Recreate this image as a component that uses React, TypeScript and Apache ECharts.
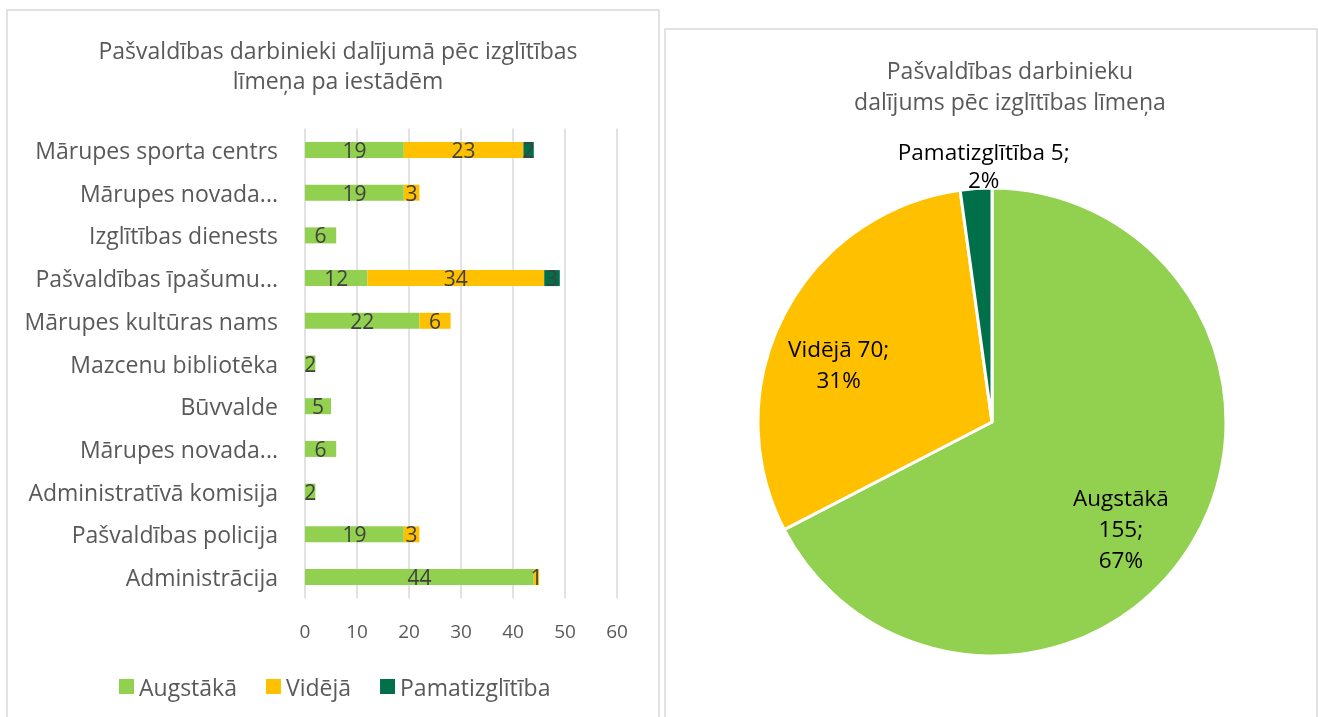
import React, { useEffect, useRef } from "react";
import * as echarts from "echarts";

const categories = [
  "Administrācija",
  "Pašvaldības policija",
  "Administratīvā komisija",
  "Mārupes novada...",
  "Būvvalde",
  "Mazcenu bibliotēka",
  "Mārupes kultūras nams",
  "Pašvaldības īpašumu...",
  "Izglītības dienests",
  "Mārupes novada...",
  "Mārupes sporta centrs",
];
const augstaka = [44, 19, 2, 6, 5, 2, 22, 12, 6, 19, 19];
const videja = [1, 3, 0, 0, 0, 0, 6, 34, 0, 3, 23];
const pamat = [0, 0, 0, 0, 0, 0, 0, 3, 0, 0, 2];
const seriesNames = ["Augstākā", "Vidējā", "Pamatizglītība"];
const pieValues = [155, 70, 5];
const piePercents = ["67%", "31%", "2%"];
const xTicks = { min: 0, max: 60, interval: 10 };

const COLORS = ["#92D050", "#FFC000", "#00704A"];
const FONT = "Open Sans";

export default function App() {
  const ref = useRef<HTMLDivElement>(null);
  useEffect(() => {
    if (!ref.current) return;
    const chart = echarts.init(ref.current, undefined, { renderer: "svg" });
    const barLabel = {
      show: true,
      position: "inside",
      color: "#404040",
      fontFamily: FONT,
      fontSize: 21,
      formatter: (p: any) => (p.value ? String(p.value) : ""),
    };
    const barSeries = [augstaka, videja, pamat].map((d, i) => ({
      type: "bar",
      name: seriesNames[i],
      stack: "total",
      data: d,
      barWidth: 16,
      itemStyle: { color: COLORS[i] },
      label: barLabel,
    }));
    const pieLabelFmt = (p: any) => {
      const i = p.dataIndex;
      if (i === 0) return `${seriesNames[i]}\n${pieValues[i]};\n${piePercents[i]}`;
      return `${seriesNames[i]} ${pieValues[i]};\n${piePercents[i]}`;
    };
    chart.setOption({
      animation: false,
      color: COLORS,
      title: [
        {
          text: "Pašvaldības darbinieki dalījumā pēc izglītības\nlīmeņa pa iestādēm",
          left: 333,
          top: 30,
          textAlign: "center",
          textStyle: { fontFamily: FONT, fontSize: 23, fontWeight: "normal", color: "#595959", lineHeight: 30 },
        },
        {
          text: "Pašvaldības darbinieku\ndalījums pēc izglītības līmeņa",
          left: 1005,
          top: 49.5,
          textAlign: "center",
          textStyle: { fontFamily: FONT, fontSize: 23, fontWeight: "normal", color: "#595959", lineHeight: 31 },
        },
      ],
      graphic: [
        { type: "rect", shape: { x: 7, y: 10, width: 652, height: 720 }, style: { fill: "none", stroke: "#d9d9d9", lineWidth: 1.5 } },
        { type: "rect", shape: { x: 665, y: 29, width: 652, height: 720 }, style: { fill: "none", stroke: "#d9d9d9", lineWidth: 1.5 } },
      ],
      legend: {
        data: seriesNames,
        left: 114,
        top: 670,
        icon: "rect",
        itemWidth: 15,
        itemHeight: 15,
        itemGap: 29,
        textStyle: { fontFamily: FONT, fontSize: 23, color: "#595959" },
      },
      grid: { left: 305, right: 701, top: 128.6, bottom: 118.6, containLabel: false },
      xAxis: {
        type: "value",
        min: xTicks.min,
        max: xTicks.max,
        interval: xTicks.interval,
        axisLine: { show: false },
        axisTick: { show: false },
        splitLine: { lineStyle: { color: "#d9d9d9", width: 1.5 } },
        axisLabel: { margin: 23, fontFamily: FONT, fontSize: 19, color: "#595959" },
      },
      yAxis: {
        type: "category",
        data: categories,
        axisLine: { show: false },
        axisTick: { show: false },
        axisLabel: { margin: 27, fontFamily: FONT, fontSize: 23, color: "#595959" },
      },
      series: [
        ...barSeries,
        {
          type: "pie",
          center: [992, 422],
          radius: [0, 234],
          startAngle: 90,
          clockwise: true,
          label: { show: false },
          labelLine: { show: false },
          itemStyle: { borderColor: "#ffffff", borderWidth: 3 },
          data: pieValues.map((v, i) => ({ name: seriesNames[i], value: v, itemStyle: { color: COLORS[i] } })),
        },
        {
          type: "pie",
          center: [992, 422],
          radius: [92, 234],
          startAngle: 90,
          clockwise: true,
          silent: true,
          itemStyle: { color: "rgba(0,0,0,0)", borderWidth: 0 },
          labelLine: { show: false },
          label: {
            show: true,
            position: "inside",
            fontFamily: FONT,
            fontSize: 22.5,
            lineHeight: 31,
            color: "#000000",
            formatter: pieLabelFmt,
          },
          data: pieValues.map((v, i) => ({
            name: seriesNames[i],
            value: v,
            label:
              i === 0
                ? { offset: [-13, 20] }
                : i === 1
                ? { offset: [-6, 18] }
                : { lineHeight: 28, offset: [3, -91] },
          })),
        },
      ],
    });
    return () => chart.dispose();
  }, []);
  return <div ref={ref} style={{ position: "fixed", left: 0, top: 0, width: 1318, height: 717 }} />;
}
